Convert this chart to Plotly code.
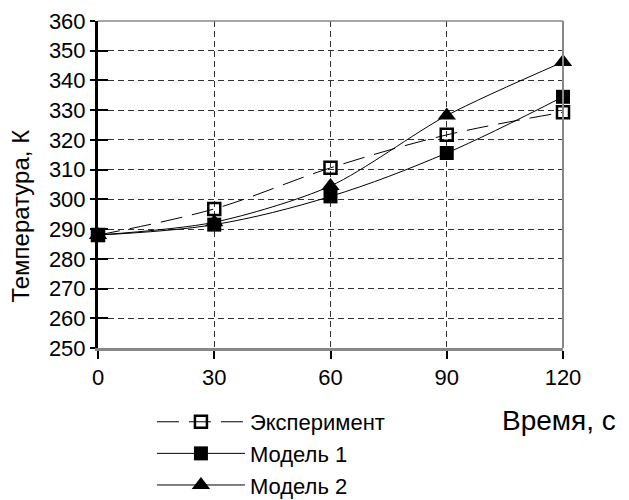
import plotly.graph_objects as go

time_s = [0, 30, 60, 90, 120]
experiment = [288, 296.8, 310.6, 321.7, 329.3]
model1 = [288, 291.5, 301, 315.6, 334.5]
model2 = [288, 292.3, 304.5, 328.2, 346.2]
y_ticks = list(range(250, 361, 10))
x_ticks = [0, 30, 60, 90, 120]

FONT = "Liberation Sans, Arial, sans-serif"

fig = go.Figure()
fig.add_trace(go.Scatter(
    x=time_s, y=experiment, name="Эксперимент", mode="lines+markers",
    line=dict(color="black", width=1, shape="spline", dash="22px,10px"),
    marker=dict(symbol="square-open", size=12, color="black", line=dict(width=2.5, color="black")),
    cliponaxis=False, legendrank=1, legendgroup="a"))
fig.add_trace(go.Scatter(
    x=time_s, y=model2, name="Модель 2", mode="lines+markers",
    line=dict(color="black", width=1, shape="spline", smoothing=0.8),
    marker=dict(symbol="triangle-up", size=16, color="black"),
    cliponaxis=False, legendrank=3, legendgroup="c"))
fig.add_trace(go.Scatter(
    x=time_s, y=model1, name="Модель 1", mode="lines+markers",
    line=dict(color="black", width=1, shape="spline"),
    marker=dict(symbol="square", size=14, color="black"),
    cliponaxis=False, legendrank=2, legendgroup="b"))

# dummy trace for inside tick marks on y axis
fig.add_trace(go.Scatter(x=[None], y=[None], yaxis="y2", showlegend=False))

fig.update_layout(
    width=621, height=492,
    margin=dict(l=90, r=66, t=13, b=152, autoexpand=False),
    paper_bgcolor="white", plot_bgcolor="white",
    font=dict(family=FONT, size=21, color="black"),
    showlegend=True,
    legend=dict(x=0.116, y=-0.162, xanchor="left", yanchor="top", itemwidth=88,
                font=dict(size=22), tracegroupgap=0, bgcolor="rgba(0,0,0,0)"),
    xaxis=dict(range=[0, 120], tickvals=x_ticks, ticks="outside", ticklen=8,
               tickcolor="black", tickwidth=1.5,
               showgrid=True, gridcolor="#333", griddash="6px,4px", gridwidth=1,
               showline=True, linecolor="#888", linewidth=3, zeroline=False,
               tickfont=dict(size=22)),
    yaxis=dict(range=[250, 360], tickvals=y_ticks, ticks="outside", ticklen=5,
               tickcolor="black", tickwidth=2,
               showgrid=True, gridcolor="#333", griddash="6px,4px", gridwidth=1,
               showline=True, linecolor="black", linewidth=3, zeroline=False,
               tickfont=dict(size=22)),
    yaxis2=dict(range=[250, 360], tickvals=y_ticks, overlaying="y", side="left",
                ticks="inside", ticklen=10, tickcolor="black", tickwidth=2,
                showticklabels=False, showgrid=False, zeroline=False, showline=False),
    shapes=[
        dict(type="line", xref="paper", yref="paper", x0=1, x1=1, y0=0, y1=1,
             line=dict(color="#888", width=2)),
        dict(type="line", xref="paper", yref="paper", x0=0, x1=1, y0=1, y1=1,
             line=dict(color="#888", width=1.5)),
    ],
    annotations=[
        dict(text="Время, с", xref="paper", yref="paper", x=1.118, y=-0.223,
             xanchor="right", yanchor="middle", showarrow=False,
             font=dict(size=28, family=FONT)),
        dict(text="Температура, К", xref="paper", yref="paper", x=-0.1656, y=0.405,
             xanchor="center", yanchor="middle", textangle=-90, showarrow=False,
             font=dict(size=24, family=FONT)),
    ],
)

fig.write_html("out.html")
